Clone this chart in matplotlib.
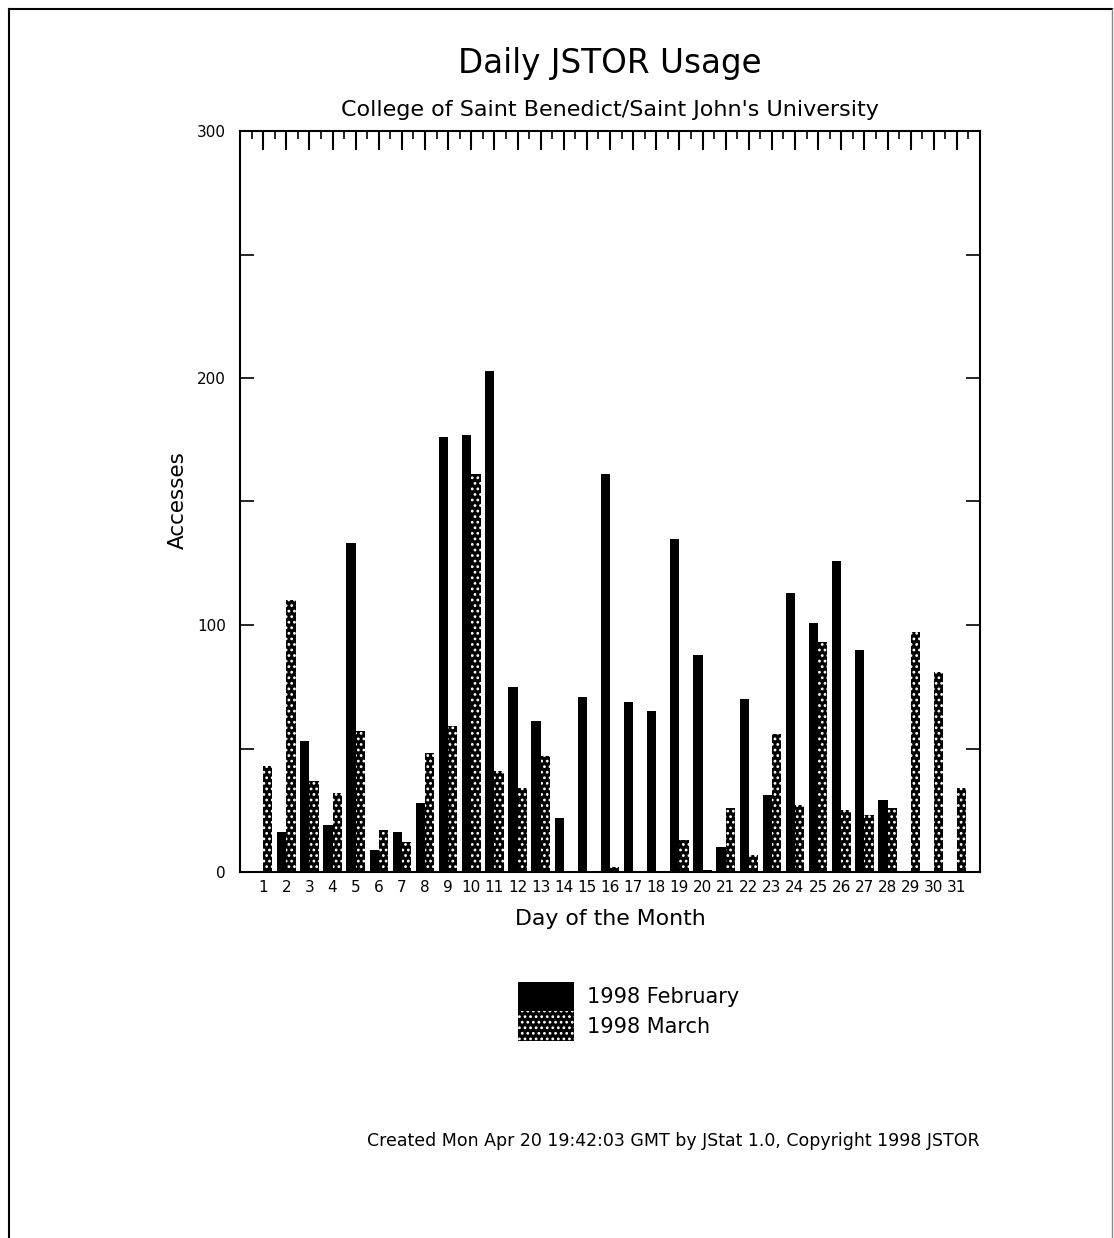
import numpy as np
import matplotlib
matplotlib.use("Agg")
import matplotlib.pyplot as plt
from matplotlib.lines import Line2D
from matplotlib.patches import Patch

# 数据：每日访问次数
days = list(range(1, 32))
feb = [0, 16, 53, 19, 133, 9, 16, 28, 176, 177, 203, 75, 61, 22, 71,
       161, 69, 65, 135, 88, 10, 70, 31, 113, 101, 126, 90, 29, 0, 0, 0]
mar = [43, 110, 37, 32, 57, 17, 12, 48, 59, 161, 41, 34, 47, 0, 0,
       2, 0, 0, 13, 1, 26, 7, 56, 27, 93, 25, 23, 26, 97, 81, 34]
series_names = ['1998 February', '1998 March']
y_ticks = [0, 100, 200, 300]

plt.rcParams['font.family'] = ['DejaVu Sans']
plt.rcParams['hatch.linewidth'] = 1.2

fig = plt.figure(figsize=(11.14, 12.38), dpi=100)
ax = fig.add_axes([240 / 1114, 1 - 872 / 1238, 740 / 1114, 741 / 1238])

x = np.array(days)
ax.bar(x, feb, width=-0.4, align='edge', color='black', linewidth=0)
ax.bar(x, mar, width=0.4, align='edge', color='black', edgecolor='white',
       hatch='...', linewidth=0)

ax.set_xlim(0, 32)
ax.set_ylim(0, 300)

ax.set_xticks(days)
ax.set_xticklabels([str(d) for d in days])
ax.set_xticks(np.arange(0.5, 32, 0.5), minor=True)
ax.tick_params(axis='x', which='major', top=True, bottom=False, labelbottom=True,
               direction='in', length=14, width=1.5, labelsize=11, pad=6)
ax.tick_params(axis='x', which='minor', top=True, bottom=False,
               direction='in', length=6, width=1.2)

ax.set_yticks(y_ticks)
ax.set_yticks([50, 150, 250], minor=True)
ax.tick_params(axis='y', which='both', left=True, right=True, direction='in',
               length=10, width=1.2, labelsize=11, pad=10)

for s in ax.spines.values():
    s.set_linewidth(1.5)

ax.set_ylabel('Accesses', fontsize=15.5)
ax.yaxis.set_label_coords(-0.07, 0.502)
ax.set_xlabel('Day of the Month', fontsize=15.8)
ax.xaxis.set_label_coords(0.5, -0.05)

fig.text(610 / 1114, 1 - 63 / 1238, 'Daily JSTOR Usage', fontsize=23.5,
         ha='center', va='center')
fig.text(610 / 1114, 1 - 110 / 1238,
         "College of Saint Benedict/Saint John's University", fontsize=16,
         ha='center', va='center')

handles = [Patch(facecolor='black', linewidth=0),
           Patch(facecolor='black', edgecolor='white', hatch='...', linewidth=0)]
fig.legend(handles, series_names, loc='upper left',
           bbox_to_anchor=(518 / 1114, 1 - 982 / 1238), frameon=False,
           borderpad=0, borderaxespad=0, handlelength=2.7, handleheight=1.8,
           labelspacing=0, handletextpad=0.6, fontsize=15)

fig.text(980 / 1114, 1 - 1141 / 1238,
         'Created Mon Apr 20 19:42:03 GMT by JStat 1.0, Copyright 1998 JSTOR',
         fontsize=12.5, ha='right', va='center')

# 外框
fig.add_artist(Line2D([9 / 1114, 9 / 1114], [0, 1 - 9 / 1238], color='black', lw=1.5))
fig.add_artist(Line2D([9 / 1114, 1112 / 1114], [1 - 9 / 1238, 1 - 9 / 1238], color='black', lw=1.5))
fig.add_artist(Line2D([1112 / 1114, 1112 / 1114], [0, 1 - 9 / 1238], color='#888888', lw=1))

fig.savefig('out.png', dpi=100)
